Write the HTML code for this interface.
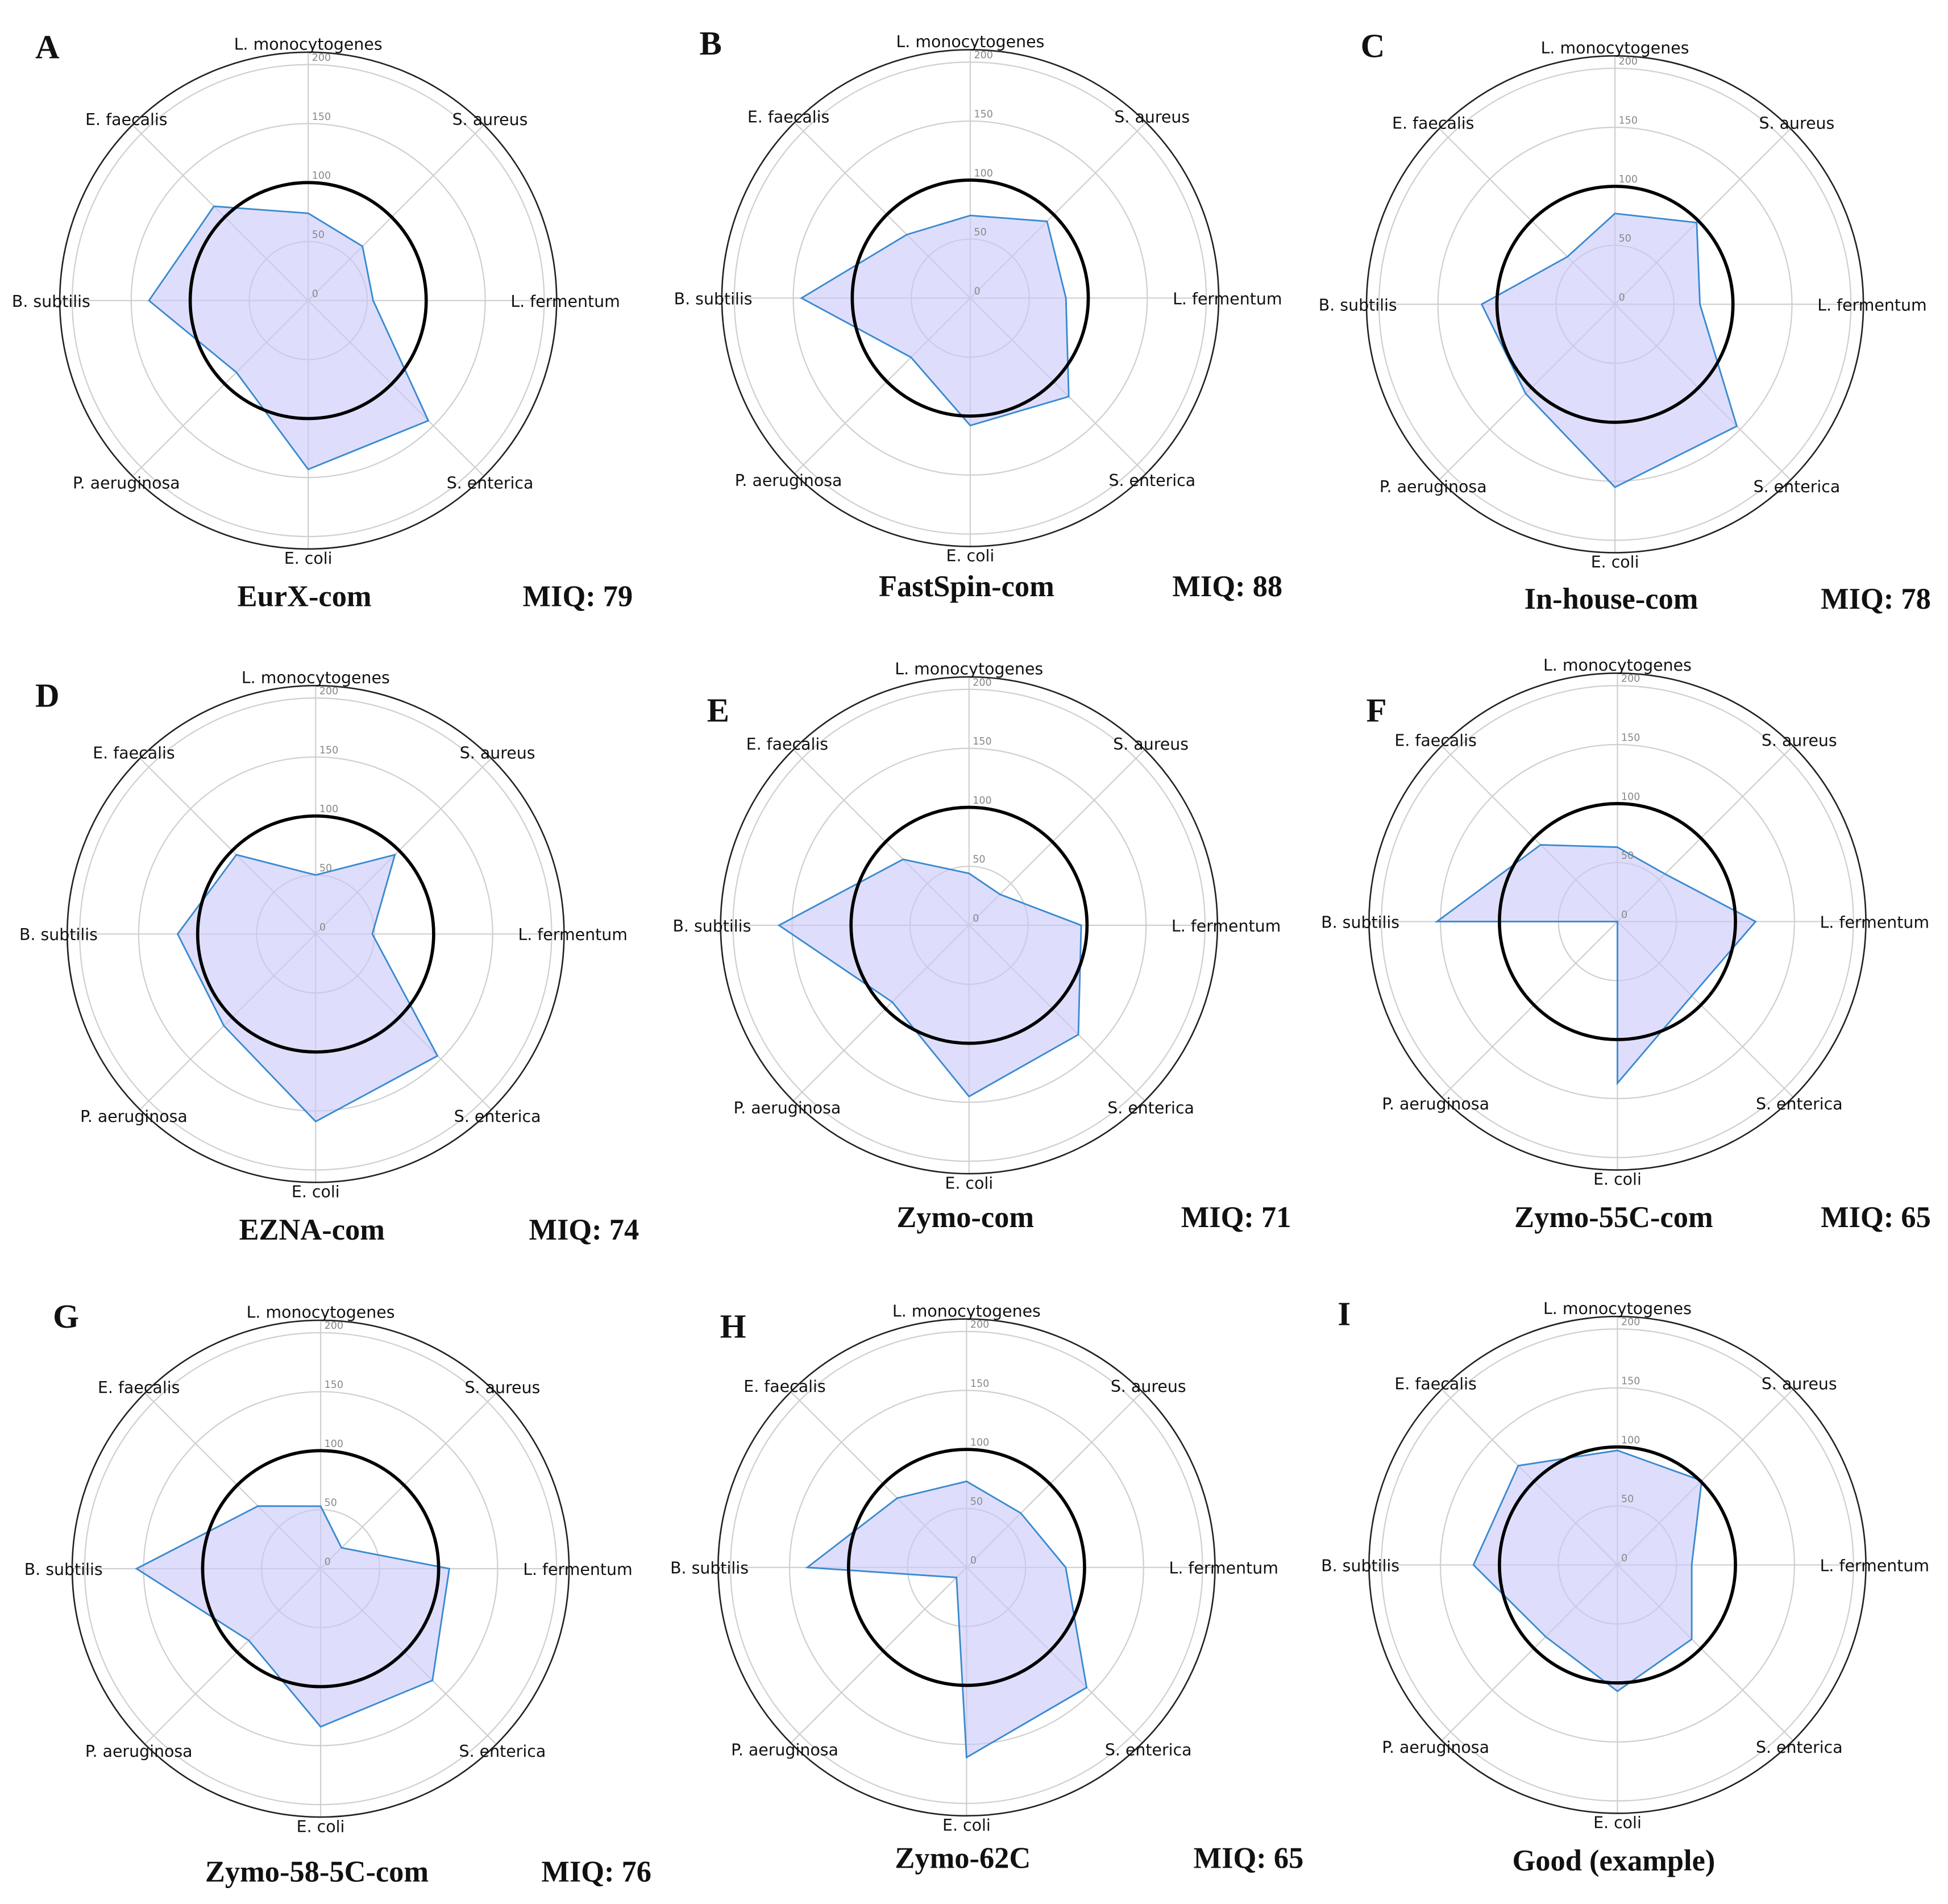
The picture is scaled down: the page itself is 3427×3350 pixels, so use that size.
<!DOCTYPE html>
<html><head><meta charset="utf-8"><style>
html,body{margin:0;padding:0;background:#fff}
svg{display:block}
.cat{font-family:"DejaVu Sans","Liberation Sans",sans-serif;font-size:13px;fill:#111}
.tick{font-family:"DejaVu Sans","Liberation Sans",sans-serif;font-size:8px;fill:#888}
.ttl{font-family:"Liberation Serif",serif;font-size:24px;font-weight:bold;fill:#111}
.let{font-family:"Liberation Serif",serif;font-size:27px;font-weight:bold;fill:#111}
</style></head><body>
<svg id="fig" width="3427" height="3350" viewBox="0 0 1568 1533" xmlns="http://www.w3.org/2000/svg"></svg>
<script>
const categories = ["L. monocytogenes","S. aureus","L. fermentum","S. enterica","E. coli","P. aeruginosa","B. subtilis","E. faecalis"];
const tickLabels = [0,50,100,150,200];
const panelLetters = ["A","B","C","D","E","F","G","H","I"];
const panelTitles = ["EurX-com","FastSpin-com","In-house-com","EZNA-com","Zymo-com","Zymo-55C-com","Zymo-58-5C-com","Zymo-62C","Good (example)"];
const miqLabels = ["MIQ: 79","MIQ: 88","MIQ: 78","MIQ: 74","MIQ: 71","MIQ: 65","MIQ: 76","MIQ: 65",""];
const valuesA = [74,65,55,144,143,86,135,113];
const valuesB = [70,92,81,118,108,71,143,76];
const valuesC = [77,98,72,146,155,107,113,57];
const valuesD = [50,95,48,146,159,110,117,95];
const valuesE = [44,37,95,131,145,92,161,79];
const valuesF = [63,57,117,89,137,0,153,92];
const valuesG = [53,25,109,134,134,86,156,75];
const valuesH = [73,65,84,144,161,12,135,83];
const valuesI = [97,101,63,89,107,86,122,119];
const allValues = [valuesA,valuesB,valuesC,valuesD,valuesE,valuesF,valuesG,valuesH,valuesI];

const layout = [
 {cx:248,cy:242,ty:480,mx:465,lx:38,ly:38},
 {cx:781,cy:240,ty:472,mx:988,lx:572,ly:35},
 {cx:1300,cy:245,ty:482,mx:1510,lx:1105,ly:37},
 {cx:254,cy:752,ty:990,mx:470,lx:38,ly:560},
 {cx:780,cy:745,ty:980,mx:995,lx:578,ly:572},
 {cx:1302,cy:742,ty:980,mx:1510,lx:1108,ly:572},
 {cx:258,cy:1263,ty:1507,mx:480,lx:53,ly:1060},
 {cx:778,cy:1262,ty:1496,mx:1005,lx:590,ly:1068},
 {cx:1302,cy:1260,ty:1498,mx:0,lx:1082,ly:1058}
];
const NS="http://www.w3.org/2000/svg";
const svg=document.getElementById('fig');
const K=0.95, RMAX=200;
function rScale(v){return v*K;}
function ang(i){return -Math.PI/2 + i*2*Math.PI/categories.length;}
function el(tag,attrs,parent){const e=document.createElementNS(NS,tag);for(const k in attrs)e.setAttribute(k,attrs[k]);(parent||svg).appendChild(e);return e;}

allValues.forEach((vals,p)=>{
  const L=layout[p];
  const g=el('g',{});
  
  
  [50,100,150,200].forEach(t=>{
    const c=el('circle',{cx:L.cx,cy:L.cy,r:rScale(t),fill:'none',stroke:'#cfcfcf','stroke-width':1},g);
    
    
  });
  categories.forEach((c,i)=>{
    const a=ang(i);
    const s=el('line',{x1:L.cx,y1:L.cy,x2:L.cx+RMAX*Math.cos(a),y2:L.cy+RMAX*Math.sin(a),stroke:'#cfcfcf','stroke-width':1},g);
    
    
  });
  const outer=el('circle',{cx:L.cx,cy:L.cy,r:RMAX,fill:'none',stroke:'#222','stroke-width':1.2},g);
  
  
  const pts=vals.map((v,i)=>{const a=ang(i);return (L.cx+rScale(v)*Math.cos(a)).toFixed(1)+','+(L.cy+rScale(v)*Math.sin(a)).toFixed(1);}).join(' ');
  const poly=el('polygon',{points:pts,fill:'rgba(200,200,250,0.6)',stroke:'#3a8ad0','stroke-width':1.3},g);
  
  
  const ref=el('circle',{cx:L.cx,cy:L.cy,r:rScale(100),fill:'none',stroke:'#000','stroke-width':2.6},g);
  
  
  tickLabels.forEach(t=>{
    const tx=el('text',{x:L.cx+3,y:L.cy-rScale(t)-3,'class':'tick'},g);
    tx.textContent=t;
    
    
  });
  categories.forEach((c,i)=>{
    const a=ang(i);const R=207;
    const x=L.cx+R*Math.cos(a), y=L.cy+R*Math.sin(a)+5;
    const tx=el('text',{x:x,y:y,'class':'cat','text-anchor':'middle'},g);
    tx.textContent=c;
    
    
  });
  const lt=el('text',{x:L.lx,y:L.ly+9,'class':'let','text-anchor':'middle'},g);
  lt.textContent=panelLetters[p];
  
  
  const tt=el('text',{x:L.cx-3,y:L.ty+8,'class':'ttl','text-anchor':'middle'},g);
  tt.textContent=panelTitles[p];
  
  
  if(miqLabels[p]){
    const mt=el('text',{x:L.mx,y:L.ty+8,'class':'ttl','text-anchor':'middle'},g);
    mt.textContent=miqLabels[p];
    
    
  }
});
</script>
</body></html>
